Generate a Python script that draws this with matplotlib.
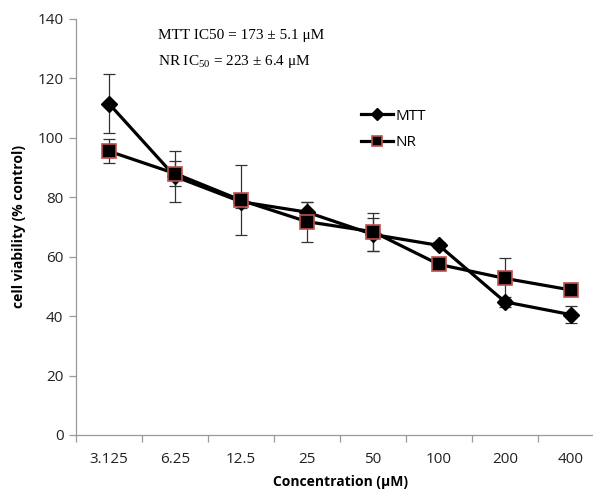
import matplotlib
matplotlib.use("Agg")
import matplotlib.pyplot as plt
import numpy as np

categories = ["3.125", "6.25", "12.5", "25", "50", "100", "200", "400"]
mtt = [111.5, 87.0, 78.5, 75.0, 67.5, 63.8, 44.8, 40.5]
mtt_err = [10.0, 8.5, 2.0, 3.3, 5.5, 1.0, 1.8, 2.8]
nr = [95.5, 88.0, 79.0, 71.8, 68.4, 57.4, 52.7, 48.8]
nr_err = [4.0, 4.2, 11.8, 6.7, 6.4, 1.5, 6.8, 1.0]
yticks = [0, 20, 40, 60, 80, 100, 120, 140]

plt.rcParams["mathtext.fontset"] = "custom"
plt.rcParams["mathtext.rm"] = "Liberation Serif"
plt.rcParams["mathtext.it"] = "Liberation Serif:italic"
plt.rcParams["mathtext.bf"] = "Liberation Serif:bold"

fig = plt.figure(figsize=(5.93, 4.92), dpi=100)
ax = fig.add_axes([76/593, 1-435/492, (604-76)/593, (435-19)/492])
x = np.arange(len(categories))

sans = ["Open Sans", "DejaVu Sans"]
serif = ["Liberation Serif", "DejaVu Serif"]

ax.errorbar(x, mtt, yerr=mtt_err, fmt="none", ecolor="#333333", elinewidth=0.9,
            capsize=4, capthick=0.9, zorder=2)
ax.errorbar(x, nr, yerr=nr_err, fmt="none", ecolor="#333333", elinewidth=0.9,
            capsize=4, capthick=0.9, zorder=2)
ax.plot(x, mtt, color="black", lw=2.3, marker="D", markersize=8,
        markerfacecolor="black", markeredgecolor="black", label="MTT", zorder=3)
ax.plot(x, nr, color="black", lw=2.3, marker="s", markersize=10,
        markerfacecolor="black", markeredgecolor="#c0504d", markeredgewidth=1.2,
        label="NR", zorder=4)

ax.set_xlim(-0.5, 7.5)
ax.set_ylim(0, 140)
ax.set_yticks(yticks)
ax.set_yticklabels([str(v) for v in yticks], fontsize=11, family=sans, color="#222222")
ax.set_xticks(x)
ax.set_xticklabels(categories, fontsize=11, family=sans, color="#222222")
ax.set_xticks(np.arange(-0.5, 8.0, 1.0), minor=True)
ax.tick_params(axis="x", which="major", length=0, pad=12)
ax.tick_params(axis="x", which="minor", length=5, color="#999999", width=0.9)
ax.tick_params(axis="y", length=5, color="#999999", width=0.9, pad=4)

for s in ["top", "right"]:
    ax.spines[s].set_visible(False)
for s in ["left", "bottom"]:
    ax.spines[s].set_color("#999999")
    ax.spines[s].set_linewidth(0.9)

ax.set_xlabel("Concentration (μM)", fontsize=10, fontweight="bold", family=sans, labelpad=6)
ax.set_ylabel("cell viability (% control)", fontsize=10, fontweight="bold", family=sans, labelpad=8)

fig.text(158/593, 1-35/492, "MTT IC50 = 173 ± 5.1 μM", fontsize=11, family=serif, va="center")
fig.text(158/593, 1-62/492, r"NR IC$_{50}$ = 223 ± 6.4 μM", fontsize=11, family=serif, va="center")

leg = ax.legend(loc="upper left", bbox_to_anchor=((347-76)/528, 1-(95-19)/416),
                frameon=False, prop={"family": sans, "size": 11}, markerscale=0.75,
                handlelength=2.1, handletextpad=0.2, labelspacing=0.75)

fig.savefig("out.png", dpi=100)
